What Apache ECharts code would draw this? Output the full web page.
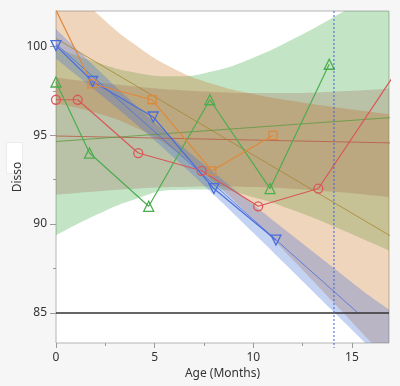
<!DOCTYPE html>
<html><head><meta charset="utf-8">
<script src="https://cdn.jsdelivr.net/npm/echarts@6/dist/echarts.min.js"></script>
<style>html,body{margin:0;padding:0;background:#f6f6f6;}#c{width:400px;height:386px;}</style>
</head><body><div id="c"></div>
<script>
// ---- axis ticks ----
const xMajorTicks = [0, 5, 10, 15];
const xMinorTicks = [2.5, 7.5, 12.5];
const yMajorTicks = [85, 90, 95, 100];
const yMinorTicks = [87.5, 92.5, 97.5];
const xMin = 0, xMax = 16.88, yMin = 83.3, yMax = 102;
const specLimit = 85;
const shelfLife = 14.09;

// ---- observed data (Age, Disso) per batch ----
const redData    = [[0, 97], [1.1, 97], [4.17, 94], [7.38, 93], [10.25, 91], [13.3, 92], [17.8, 99.5]];
const greenData  = [[0, 98], [1.7, 94], [4.7, 91], [7.8, 97], [10.85, 92], [13.85, 99]];
const blueData   = [[0, 100.05], [1.86, 98.03], [4.93, 96.03], [8.0, 92.0], [11.15, 89.1]];
const orangeData = [[0, 102.05], [1.82, 97.9], [4.87, 97], [7.9, 93], [11.0, 95]];

// ---- fitted lines ----
const redFit    = [[0, 94.96], [17, 94.57]];
const greenFit  = [[0, 94.65], [17, 96.0]];
const blueFit   = [[0, 100.15], [15.3, 85.0]];
const orangeFit = [[0, 100.45], [17, 89.3]];

// ---- confidence bands ----
const bandX    = [0, 2, 4, 6, 8, 10, 12, 14, 16, 17];
const greenLo  = [89.36, 90.49, 91.40, 91.92, 91.94, 91.51, 90.79, 89.91, 88.94, 88.44];
const greenHi  = [99.94, 99.13, 98.54, 98.32, 98.62, 99.37, 100.41, 101.61, 102.90, 103.56];
const orangeLo = [96.79, 96.27, 95.45, 94.16, 92.36, 90.25, 87.99, 85.66, 83.29, 82.09];
const orangeHi = [104.09, 101.95, 100.11, 98.74, 97.88, 97.33, 96.93, 96.60, 96.31, 96.17];
const redLo    = [91.66, 91.84, 91.99, 92.08, 92.12, 92.08, 91.98, 91.83, 91.62, 91.50];
const redHi    = [98.26, 97.98, 97.75, 97.56, 97.44, 97.38, 97.38, 97.45, 97.56, 97.64];
const blueLo   = [99.31, 97.52, 95.68, 93.72, 91.65, 89.51, 87.33, 85.14, 82.94, 81.83];
const blueHi   = [100.98, 98.83, 96.74, 94.76, 92.90, 91.10, 89.34, 87.60, 85.87, 85.10];

const C = {
  red: '#d9575a', green: '#4cad4f', blue: '#4a6ddc', orange: '#e0883a',
  redBand: 'rgba(150,90,70,0.25)', greenBand: 'rgba(60,165,65,0.3)',
  orangeBand: 'rgba(205,115,38,0.3)', blueBand: 'rgba(62,108,215,0.3)'
};
const FONT = 'Noto Sans';

// band: value listed first so the stack runs along the y dimension
function band(key, lo, hi, color) {
  return [
    { type: 'line', stack: key, encode: { x: 1, y: 0 }, data: bandX.map((x, i) => [lo[i], x]), smooth: true, symbol: 'none',
      lineStyle: { width: 0, opacity: 0 }, silent: true, z: 1 },
    { type: 'line', stack: key, encode: { x: 1, y: 0 }, data: bandX.map((x, i) => [hi[i] - lo[i], x]), smooth: true, symbol: 'none',
      lineStyle: { width: 0, opacity: 0 }, areaStyle: { color: color, opacity: 1 }, silent: true, z: 1 }
  ];
}
function fit(data, color) {
  return { type: 'line', data: data, symbol: 'none', silent: true, z: 2,
    lineStyle: { color: color, width: 1, opacity: 0.8 } };
}
function obs(data, color, symbol, size, rotate) {
  return { type: 'line', data: data, symbol: symbol, symbolSize: size, symbolRotate: rotate || 0,
    showAllSymbol: true, silent: true, z: 3,
    lineStyle: { color: color, width: 1.2 },
    itemStyle: { color: 'rgba(0,0,0,0)', borderColor: color, borderWidth: 1.3 } };
}

const series = [].concat(
  band('g', greenLo, greenHi, C.greenBand),
  band('o', orangeLo, orangeHi, C.orangeBand),
  band('r', redLo, redHi, C.redBand),
  band('b', blueLo, blueHi, C.blueBand),
  [fit(redFit, '#b85a48'), fit(greenFit, '#5c9a40'), fit(orangeFit, '#a8862e'), fit(blueFit, C.blue)],
  [obs(redData, C.red, 'circle', 9), obs(greenData, C.green, 'triangle', 10),
   obs(blueData, C.blue, 'triangle', 10, 180), obs(orangeData, C.orange, 'rect', 8)]
);
series.push({ type: 'line', data: [], z: 4, markLine: { silent: true, symbol: 'none', animation: false,
  label: { show: false }, data: [{ yAxis: specLimit, lineStyle: { color: '#333', width: 1.5, type: 'solid' } }] } });
series.push({ type: 'custom', data: [[shelfLife, yMin]], clip: false, z: 5, silent: true,
  renderItem: function (params, api) {
    const top = api.coord([api.value(0), yMax]);
    const bot = api.coord([api.value(0), yMin]);
    return { type: 'line', shape: { x1: top[0], y1: top[1], x2: bot[0], y2: bot[1] + 5 },
      style: { stroke: '#3d62d6', lineWidth: 1, lineDash: [2, 2] } };
  } });

const chart = echarts.init(document.getElementById('c'), null, { renderer: 'canvas' });
chart.setOption({
  animation: false,
  backgroundColor: '#f6f6f6',
  textStyle: { fontFamily: FONT },
  grid: { left: 56, top: 11, right: 11, bottom: 43, show: true, backgroundColor: '#fff',
    borderColor: '#b4b4b4', borderWidth: 1, containLabel: false, outerBoundsMode: 'none' },
  xAxis: [
    { type: 'value', min: xMin, max: xMax, name: 'Age (Months)', nameLocation: 'middle', nameGap: 25,
      nameMoveOverlap: false,
      nameTextStyle: { fontFamily: FONT, fontSize: 12, color: '#333' },
      axisLine: { show: false }, splitLine: { show: false },
      axisTick: { show: true, length: 5, lineStyle: { color: '#999' }, customValues: xMajorTicks },
      axisLabel: { fontFamily: FONT, fontSize: 12, color: '#333', margin: 9, customValues: xMajorTicks } },
    { type: 'value', min: xMin, max: xMax, position: 'bottom',
      axisLine: { show: false }, splitLine: { show: false }, axisLabel: { show: false },
      axisTick: { show: true, length: 3, lineStyle: { color: '#999' }, customValues: xMinorTicks } }
  ],
  yAxis: [
    { type: 'value', min: yMin, max: yMax, name: 'Disso', nameLocation: 'middle', nameGap: 32,
      nameMoveOverlap: false,
      nameTextStyle: { fontFamily: FONT, fontSize: 12, color: '#333' },
      axisLine: { show: false }, splitLine: { show: false },
      axisTick: { show: true, length: 6, lineStyle: { color: '#999' }, customValues: yMajorTicks },
      axisLabel: { fontFamily: FONT, fontSize: 12, color: '#333', margin: 9, customValues: yMajorTicks } },
    { type: 'value', min: yMin, max: yMax, position: 'left',
      axisLine: { show: false }, splitLine: { show: false }, axisLabel: { show: false },
      axisTick: { show: true, length: 3, lineStyle: { color: '#999' }, customValues: yMinorTicks } }
  ],
  graphic: [{ type: 'rect', left: 6, top: 142, shape: { width: 16, height: 31 },
    style: { fill: '#fff', stroke: '#ececec', lineWidth: 1 }, silent: true }],
  series: series
});
</script></body></html>
